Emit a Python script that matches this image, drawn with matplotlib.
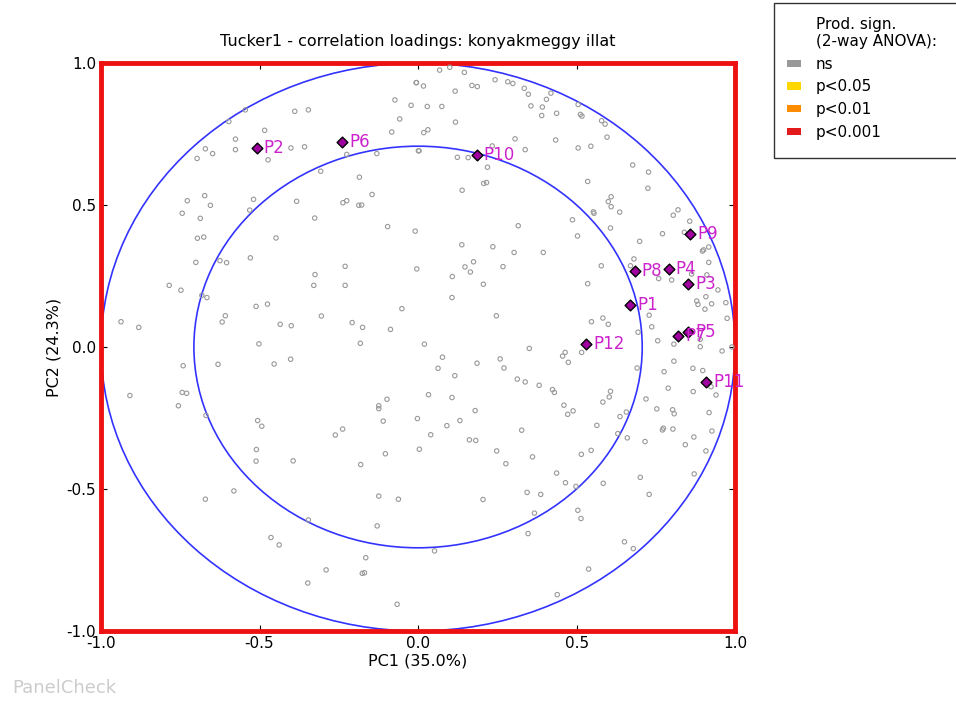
import matplotlib
matplotlib.use("Agg")
import matplotlib.pyplot as plt
from matplotlib.patches import Circle, Rectangle
import numpy as np

# ---------- loadings: product-sign. markers (all ns) ----------
attr_x = [
    -0.006, -0.073, -0.022, -0.058, -0.083, 0.001, -0.130, -0.225, -0.545, -0.597,
    -0.389, -0.346, -0.484, -0.576, -0.671, -0.648, -0.576, -0.697, -0.473, -0.401,
    -0.358, -0.307, -0.185, -0.519, -0.728, -0.673, -0.655, -0.744, -0.531, -0.687,
    -0.696, -0.676, -0.448, -0.383, -0.237, -0.225, -0.187, -0.178, -0.145, -0.326,
    -0.096, -0.009, -0.701, -0.625, -0.604, -0.529, -0.230, -0.325, -0.329, -0.230,
    -0.004, -0.785, -0.748, -0.682, -0.666, -0.511, -0.475, -0.305, -0.208, -0.175,
    -0.087, -0.051, -0.937, -0.881, -0.608, -0.618, -0.435, -0.400, -0.502, -0.182,
    0.068, 0.100, 0.146, -0.005, 0.017, 0.170, 0.187, 0.243, 0.283, 0.299,
    0.117, 0.335, 0.348, 0.419, 0.405, 0.029, 0.075, 0.356, 0.392, 0.390,
    0.437, 0.505, 0.512, 0.517, 0.579, 0.590, 0.118, 0.018, 0.031, 0.596,
    0.306, 0.434, 0.234, 0.003, 0.124, 0.158, 0.219, 0.338, 0.505, 0.545,
    0.677, 0.727, 0.725, 0.139, 0.207, 0.216, 0.535, 0.609, 0.600, 0.609,
    0.553, 0.555, 0.636, 0.487, 0.316, 0.503, 0.607, 0.699, 0.771, 0.805,
    0.820, 0.857, 0.840, 0.897, 0.901, 0.917, 0.138, 0.236, 0.303, 0.395,
    0.108, 0.148, 0.165, 0.175, 0.268, 0.206, 0.578, 0.535, 0.681, 0.670,
    0.759, 0.800, 0.863, 0.917, 0.911, 0.946, 0.908, 0.879, 0.883, 0.926,
    0.905, 0.971, 0.975, 0.107, 0.247, 0.020, 0.351, 0.547, 0.583, 0.600,
    0.729, 0.737, 0.694, 0.756, 0.807, 0.890, 0.890, 0.990,
    -0.741, -0.631, -0.454, -0.402, -0.909, -0.744, -0.730, -0.756, -0.669, -0.124,
    -0.124, -0.098, -0.110, -0.002, -0.506, -0.493, -0.261, -0.238, -0.510, -0.511,
    -0.394, -0.181, -0.103, 0.004, -0.671, -0.581, -0.124, -0.062, -0.346, -0.129,
    -0.464, -0.438, -0.165, -0.290, -0.176, -0.169, -0.348, -0.066,
    0.464, 0.456, 0.516, 0.474, 0.077, 0.063, 0.186, 0.259, 0.271, 0.116,
    0.313, 0.338, 0.382, 0.424, 0.430, 0.607, 0.603, 0.583, 0.460, 0.489,
    0.472, 0.033, 0.107, 0.180, 0.132, 0.091, 0.040, 0.327, 0.564, 0.637,
    0.657, 0.162, 0.182, 0.248, 0.277, 0.361, 0.546, 0.515, 0.630, 0.660,
    0.437, 0.465, 0.498, 0.584, 0.205, 0.344, 0.387, 0.367, 0.504, 0.514,
    0.347, 0.052, 0.651, 0.679, 0.538, 0.439, 0.701, 0.729, 0.716, 0.691,
    0.776, 0.807, 0.867, 0.898, 0.959, 0.924, 0.940, 0.868, 0.789, 0.719,
    0.753, 0.803, 0.808, 0.774, 0.771, 0.804, 0.918, 0.927, 0.870, 0.843,
    0.908, 0.871,
]
attr_y = [
    0.931, 0.870, 0.851, 0.803, 0.757, 0.691, 0.681, 0.678, 0.835, 0.794,
    0.830, 0.835, 0.763, 0.732, 0.698, 0.681, 0.695, 0.664, 0.659, 0.701,
    0.705, 0.619, 0.598, 0.520, 0.515, 0.533, 0.499, 0.471, 0.482, 0.453,
    0.383, 0.387, 0.384, 0.513, 0.508, 0.515, 0.499, 0.500, 0.537, 0.454,
    0.424, 0.408, 0.298, 0.304, 0.297, 0.314, 0.284, 0.255, 0.217, 0.217,
    0.275, 0.217, 0.200, 0.182, 0.174, 0.143, 0.151, 0.109, 0.086, 0.069,
    0.062, 0.135, 0.089, 0.069, 0.110, 0.088, 0.080, 0.075, 0.011, 0.013,
    0.975, 0.985, 0.967, 0.931, 0.919, 0.921, 0.917, 0.941, 0.934, 0.928,
    0.901, 0.911, 0.890, 0.894, 0.872, 0.847, 0.847, 0.849, 0.845, 0.815,
    0.823, 0.854, 0.819, 0.813, 0.797, 0.785, 0.792, 0.755, 0.765, 0.739,
    0.733, 0.729, 0.708, 0.691, 0.668, 0.667, 0.633, 0.695, 0.701, 0.707,
    0.641, 0.616, 0.559, 0.552, 0.576, 0.579, 0.583, 0.529, 0.512, 0.494,
    0.476, 0.471, 0.475, 0.448, 0.427, 0.391, 0.419, 0.372, 0.399, 0.464,
    0.483, 0.443, 0.404, 0.338, 0.342, 0.352, 0.360, 0.353, 0.333, 0.333,
    0.248, 0.282, 0.264, 0.300, 0.283, 0.221, 0.286, 0.223, 0.310, 0.286,
    0.241, 0.236, 0.257, 0.298, 0.254, 0.201, 0.177, 0.162, 0.150, 0.152,
    0.133, 0.156, 0.101, 0.174, 0.110, 0.010, -0.005, 0.089, 0.102, 0.080,
    0.112, 0.071, 0.052, 0.022, 0.010, 0.027, 0.001, 0.000,
    -0.066, -0.061, -0.060, -0.043, -0.171, -0.160, -0.163, -0.207, -0.241, -0.207,
    -0.217, -0.184, -0.261, -0.252, -0.259, -0.279, -0.310, -0.289, -0.361, -0.402,
    -0.401, -0.414, -0.376, -0.360, -0.536, -0.507, -0.525, -0.536, -0.609, -0.630,
    -0.671, -0.697, -0.742, -0.785, -0.797, -0.795, -0.831, -0.906,
    -0.019, -0.032, -0.019, -0.054, -0.036, -0.075, -0.057, -0.042, -0.074, -0.101,
    -0.113, -0.123, -0.135, -0.150, -0.160, -0.156, -0.176, -0.194, -0.205, -0.225,
    -0.237, -0.168, -0.178, -0.224, -0.259, -0.277, -0.309, -0.293, -0.276, -0.245,
    -0.229, -0.327, -0.329, -0.366, -0.411, -0.387, -0.364, -0.378, -0.305, -0.320,
    -0.444, -0.478, -0.491, -0.480, -0.537, -0.512, -0.519, -0.585, -0.575, -0.604,
    -0.657, -0.718, -0.686, -0.710, -0.782, -0.872, -0.459, -0.519, -0.333, -0.074,
    -0.087, -0.050, -0.075, -0.083, -0.014, -0.140, -0.169, -0.157, -0.145, -0.183,
    -0.218, -0.221, -0.235, -0.286, -0.292, -0.289, -0.231, -0.296, -0.317, -0.344,
    -0.366, -0.447,
]

# ---------- assessor scores ----------
assessors = ["P1", "P2", "P3", "P4", "P5", "P6", "P7", "P8", "P9", "P10", "P11", "P12"]
assessor_x = [0.670, -0.509, 0.853, 0.791, 0.853, -0.240, 0.820, 0.684, 0.858, 0.185, 0.909, 0.530]
assessor_y = [0.147, 0.702, 0.221, 0.275, 0.052, 0.723, 0.039, 0.268, 0.399, 0.675, -0.122, 0.010]

legend_labels = ["ns", "p<0.05", "p<0.01", "p<0.001"]
legend_colors = ["#999999", "#ffd700", "#ff8c00", "#e31a1c"]

plt.rcParams["font.family"] = "DejaVu Sans"
plt.rcParams["axes.unicode_minus"] = False

fig = plt.figure(figsize=(9.56, 7.01), dpi=100)
ax = fig.add_axes([0.1057, 0.0999, 0.6632, 0.8102])

# explained-variance circles (100% and 50%)
for r in (1.0, np.sqrt(0.5)):
    ax.add_patch(Circle((0, 0), r, fill=False, edgecolor="#3333ff", linewidth=1.2, zorder=2))

ax.scatter(attr_x, attr_y, s=10, facecolors="none", edgecolors="#999999",
           linewidths=0.8, zorder=3)

ax.scatter(assessor_x, assessor_y, marker="D", s=30, facecolors="#a000a0",
           edgecolors="black", linewidths=1.0, zorder=4)
for name, x, y in zip(assessors, assessor_x, assessor_y):
    ax.annotate(name, (x, y), xytext=(5, 0), textcoords="offset points",
                va="center", ha="left", color="#cc22cc", fontsize=12, zorder=5)

ax.set_xlim(-1, 1)
ax.set_ylim(-1, 1)
ax.set_xticks([-1.0, -0.5, 0.0, 0.5, 1.0])
ax.set_yticks([-1.0, -0.5, 0.0, 0.5, 1.0])
ax.tick_params(direction="in", top=True, right=True, length=4, labelsize=11)
for sp in ax.spines.values():
    sp.set_color("#ee1111")
    sp.set_linewidth(3.5)

ax.set_title("Tucker1 - correlation loadings: konyakmeggy illat", fontsize=11.5, pad=12)
ax.set_xlabel("PC1 (35.0%)", fontsize=11.5, labelpad=2)
ax.set_ylabel("PC2 (24.3%)", fontsize=11.5, labelpad=4)

# legend for product significance, frame runs off the right edge
handles = [Rectangle((0, 0), 1, 1, alpha=0.0)]
labels = ["Prod. sign.\n(2-way ANOVA):"]
for lab, col in zip(legend_labels, legend_colors):
    handles.append(Rectangle((0, 0), 1, 1, facecolor=col, edgecolor="none"))
    labels.append(lab)
fig.legend(handles, labels, loc="upper left", bbox_to_anchor=(0.815, 0.987),
           fontsize=11, frameon=False, handlelength=0.9,
           handleheight=0.35, handletextpad=1.0, labelspacing=0.5,
           borderpad=0.5, borderaxespad=0)
fig.patches.append(Rectangle((0.8096, 0.7746), 0.3, 0.2211, transform=fig.transFigure,
                             fill=False, edgecolor="#333333", linewidth=1.0))

fig.text(0.013, 0.012, "PanelCheck", color="#cccccc", fontsize=13)

fig.savefig("out.png", dpi=100)
